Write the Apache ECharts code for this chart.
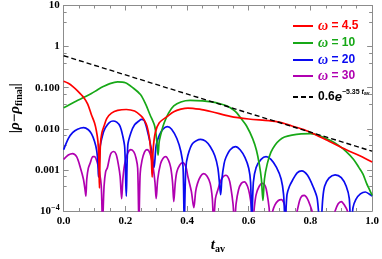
<!DOCTYPE html>
<html><head><meta charset="utf-8">
<script src="https://cdn.jsdelivr.net/npm/echarts@6/dist/echarts.min.js"></script>
<style>html,body{margin:0;padding:0;background:#fff}#c{width:382px;height:259px}</style>
</head><body><div id="c"></div>
<script>
// ---- data (t_av, |rho - rho_final|) ----
const xTickValues = [0, 0.2, 0.4, 0.6, 0.8, 1.0];
const yTickLabels = {"1": "10", "0": "1", "-1": "0.100", "-2": "0.010", "-3": "0.001", "-4": "{b|10}{s|−4}"};
const seriesNames = ["ω = 4.5", "ω = 10", "ω = 20", "ω = 30", "fit"];

const red = [[0,0.143],[0.015,0.128],[0.029,0.108],[0.045,0.084],[0.065,0.058],[0.078,0.04],[0.09,0.022],[0.1,0.014],[0.106,0.009],[0.111,0.005],[0.114,0.002],[0.116,0.00036],[0.119,0.004],[0.124,0.008],[0.131,0.0117],[0.14,0.018],[0.155,0.024],[0.175,0.028],[0.203,0.0295],[0.23,0.027],[0.25,0.021],[0.26,0.017],[0.27,0.0117],[0.278,0.006],[0.284,0.002],[0.287,0.00067],[0.29,0.003],[0.297,0.008],[0.31,0.014],[0.336,0.02],[0.357,0.026],[0.38,0.03],[0.403,0.032],[0.44,0.03],[0.48,0.026],[0.54,0.02],[0.6,0.0173],[0.665,0.0158],[0.7,0.0145],[0.74,0.0117],[0.78,0.0095],[0.81,0.0076],[0.86,0.005],[0.916,0.0031],[0.96,0.0022],[1.0,0.00155]];

const green = [[0,0.0325],[0.02,0.039],[0.04,0.047],[0.065,0.058],[0.09,0.072],[0.11,0.089],[0.13,0.108],[0.15,0.126],[0.175,0.138],[0.2,0.132],[0.224,0.1],[0.249,0.068],[0.265,0.041],[0.28,0.022],[0.295,0.0117],[0.302,0.005],[0.306,0.0023],[0.31,0.005],[0.318,0.009],[0.326,0.014],[0.34,0.024],[0.357,0.036],[0.38,0.045],[0.41,0.049],[0.45,0.048],[0.48,0.045],[0.51,0.04],[0.53,0.036],[0.55,0.029],[0.562,0.024],[0.577,0.017],[0.593,0.0117],[0.613,0.0057],[0.625,0.003],[0.634,0.0014],[0.641,0.0006],[0.646,0.00018],[0.651,0.0006],[0.66,0.0014],[0.672,0.0027],[0.685,0.004],[0.7,0.0053],[0.716,0.0063],[0.74,0.007],[0.77,0.0075],[0.8,0.0076],[0.83,0.0068],[0.865,0.0052],[0.89,0.004],[0.916,0.0028],[0.94,0.0018],[0.957,0.00115],[0.97,0.0008],[0.982,0.00047],[0.99,0.00035],[1.0,0.00024]];

const blue = [[0,0.0031],[0.015,0.0058],[0.029,0.0081],[0.045,0.0098],[0.065,0.0107],[0.08,0.0095],[0.09,0.0076],[0.1,0.005],[0.107,0.003],[0.111,0.0015],[0.113,0.00067],[0.118,0.0035],[0.126,0.0069],[0.135,0.0105],[0.148,0.0142],[0.16,0.0155],[0.172,0.0145],[0.183,0.0115],[0.192,0.0065],[0.198,0.0035],[0.203,0.00023],[0.208,0.004],[0.218,0.008],[0.23,0.0125],[0.244,0.0155],[0.252,0.017],[0.262,0.0155],[0.275,0.0069],[0.285,0.003],[0.293,0.00115],[0.3,0.004],[0.31,0.0069],[0.322,0.0098],[0.336,0.0113],[0.35,0.0098],[0.367,0.0058],[0.38,0.0028],[0.387,0.0012],[0.391,0.00005],[0.396,0.0011],[0.403,0.0023],[0.418,0.0044],[0.444,0.0055],[0.46,0.005],[0.475,0.0037],[0.49,0.0022],[0.5,0.0011],[0.506,0.0004],[0.509,0.00025],[0.513,0.0006],[0.52,0.0014],[0.526,0.002],[0.54,0.0031],[0.557,0.0037],[0.572,0.0031],[0.588,0.002],[0.6,0.0011],[0.606,0.0005],[0.61,0.00005],[0.615,0.0005],[0.624,0.00115],[0.64,0.0018],[0.656,0.0021],[0.672,0.0018],[0.69,0.00115],[0.705,0.0006],[0.713,0.00025],[0.718,0.00005],[0.724,0.00025],[0.732,0.0004],[0.742,0.00056],[0.757,0.00085],[0.772,0.00095],[0.79,0.00075],[0.808,0.0004],[0.822,0.0002],[0.832,0.00003],[0.84,0.0002],[0.846,0.0004],[0.86,0.00063],[0.88,0.00076],[0.9,0.00065],[0.916,0.0004],[0.926,0.0002],[0.931,0.00003],[0.938,0.00012],[0.947,0.00019],[0.962,0.00026],[0.978,0.00029],[0.99,0.00026],[1.0,0.00023]];

const purple = [[0,0.0018],[0.015,0.0023],[0.029,0.0025],[0.042,0.0021],[0.054,0.00115],[0.064,0.0006],[0.07,0.0003],[0.072,0.00023],[0.075,0.0006],[0.08,0.0011],[0.085,0.0014],[0.095,0.0021],[0.1,0.0021],[0.108,0.0016],[0.116,0.0009],[0.122,0.0004],[0.126,0.00005],[0.131,0.0004],[0.136,0.0009],[0.142,0.00115],[0.152,0.0024],[0.162,0.0028],[0.17,0.0024],[0.177,0.0014],[0.183,0.0007],[0.188,0.0002],[0.192,0.0006],[0.198,0.0014],[0.208,0.0026],[0.218,0.0031],[0.228,0.0027],[0.235,0.0019],[0.24,0.0011],[0.244,0.00005],[0.248,0.0008],[0.254,0.0017],[0.262,0.0027],[0.27,0.0031],[0.28,0.0025],[0.29,0.00115],[0.296,0.0005],[0.3,0.0002],[0.305,0.0006],[0.314,0.0014],[0.322,0.0019],[0.331,0.0021],[0.34,0.0017],[0.347,0.00115],[0.353,0.0005],[0.357,0.00017],[0.362,0.0005],[0.367,0.0009],[0.376,0.0013],[0.386,0.0015],[0.396,0.0012],[0.403,0.00067],[0.414,0.0003],[0.422,0.00012],[0.428,0.0003],[0.434,0.00047],[0.444,0.0007],[0.454,0.00081],[0.465,0.0007],[0.475,0.00047],[0.482,0.0002],[0.486,0.00005],[0.492,0.0002],[0.5,0.00033],[0.512,0.0006],[0.526,0.00074],[0.536,0.0006],[0.542,0.00037],[0.549,0.00015],[0.554,0.00005],[0.559,0.00015],[0.567,0.00033],[0.576,0.00047],[0.586,0.00051],[0.596,0.0004],[0.603,0.00025],[0.609,0.00012],[0.613,0.00005],[0.618,0.00012],[0.624,0.00025],[0.634,0.0004],[0.644,0.00047],[0.654,0.0004],[0.66,0.00025],[0.666,0.00012],[0.67,0.00005],[0.676,0.00009],[0.685,0.00014],[0.696,0.00018],[0.706,0.00019],[0.715,0.00015],[0.72,0.0001],[0.723,0.00005],[0.74,0.00003],[0.757,0.0001],[0.765,0.00018],[0.772,0.00023],[0.78,0.00024],[0.79,0.0002],[0.8,0.00013],[0.805,0.0001],[0.81,0.00005],[0.85,0.00002],[0.88,0.0001],[0.89,0.00015],[0.9,0.00017],[0.91,0.00014],[0.92,0.0001],[0.93,0.00004],[0.97,0.00002],[1.0,0.00003]];

const fit = [[0,0.6],[0.5,0.041],[1.0,0.00285]];

// ---- styling ----
const colors = ["#ff0000", "#17a817", "#0a0af0", "#b000b0", "#000000"];
const frame = "#8c8c8c";
const serif = "Liberation Serif";
const sans = "Liberation Sans";
const solidIcon = 'path://M0,0H20V2H0Z';
const dashIcon = 'path://M0,0H5V2H0Z M8,0H13V2H8Z M16,0H20V2H16Z';

const chart = echarts.init(document.getElementById('c'), null, {renderer: 'canvas'});

function xAx(pos, labels) {
  return {
    type: 'value', min: 0, max: 1, interval: 0.2, position: pos,
    axisLine: {onZero: false, lineStyle: {color: frame, width: 1}},
    axisTick: {inside: true, length: 5, lineStyle: {color: frame}},
    minorTick: {show: true, splitNumber: 4, length: 3, lineStyle: {color: frame}},
    splitLine: {show: false},
    axisLabel: labels ? {show: true, formatter: v => v.toFixed(1), fontFamily: serif, fontWeight: 'bold', fontSize: 11, color: '#000', margin: 5} : {show: false}
  };
}
function yAx(pos, labels) {
  return {
    type: 'log', logBase: 10, min: 1e-4, max: 10, position: pos,
    axisLine: {onZero: false, lineStyle: {color: frame, width: 1}},
    axisTick: {inside: true, length: 5, lineStyle: {color: frame}},
    minorTick: {show: true, splitNumber: 3, length: 3, lineStyle: {color: frame}},
    splitLine: {show: false},
    axisLabel: labels ? {
      show: true, margin: 4, color: '#000', fontFamily: serif, fontWeight: 'bold', fontSize: 11,
      formatter: v => yTickLabels[String(Math.round(Math.log10(v)))] || '',
      rich: {
        b: {fontFamily: serif, fontWeight: 'bold', fontSize: 11, color: '#000'},
        s: {fontFamily: serif, fontWeight: 'bold', fontSize: 8, color: '#000', padding: [0, 0, 7, 0]}
      }
    } : {show: false}
  };
}

const xBottom = xAx('bottom', true);
xBottom.name = '{t|t}{s|av}';
xBottom.nameLocation = 'middle';
xBottom.nameGap = 26;
xBottom.nameTextStyle = {rich: {
  t: {fontFamily: serif, fontStyle: 'italic', fontWeight: 'bold', fontSize: 15, color: '#000'},
  s: {fontFamily: serif, fontWeight: 'bold', fontSize: 10, color: '#000', padding: [7, 0, 0, 0]}
}};
const yLeft = yAx('left', true);
yLeft.name = '|{r|ρ}−{r|ρ}{s|final}|';
yLeft.nameLocation = 'middle';
yLeft.nameRotate = 90;
yLeft.nameGap = 36;
yLeft.nameTextStyle = {fontFamily: serif, fontWeight: 'bold', fontSize: 15, color: '#000', rich: {
  r: {fontFamily: serif, fontStyle: 'italic', fontWeight: 'bold', fontSize: 15, color: '#000'},
  s: {fontFamily: serif, fontWeight: 'bold', fontSize: 10, color: '#000', padding: [7, 0, 0, 0]}
}};

const allData = [red, green, blue, purple, fit];
const series = allData.map((d, i) => ({
  name: seriesNames[i], type: 'line', data: d, xAxisIndex: 0, yAxisIndex: 0,
  showSymbol: false, symbol: 'none', clip: true, z: i === 4 ? 10 : 5 - i,
  smooth: i === 4 ? false : 0.3,
  lineStyle: {color: colors[i], width: i === 4 ? 1.4 : 1.7, type: i === 4 ? [5, 3] : 'solid'},
  itemStyle: {color: colors[i]}
}));

const rowCenters = [26, 43, 60, 76, 96];
const legendFormat = {
  "ω = 4.5": '{w|ω} = 4.5', "ω = 10": '{w|ω} = 10', "ω = 20": '{w|ω} = 20', "ω = 30": '{w|ω} = 30',
  "fit": '0.6{e|e}{sup|−5.35 }{st|t}{ss|av}'
};
const legends = seriesNames.map((n, i) => ({
  data: [n], left: 293, top: rowCenters[i] - 7, itemWidth: 20, itemHeight: 2, padding: 0,
  icon: i === 4 ? dashIcon : solidIcon,
  itemStyle: {color: colors[i], borderWidth: 0},
  formatter: name => legendFormat[name],
  textStyle: {
    color: colors[i], fontFamily: sans, fontWeight: 'bold', fontSize: 12, lineHeight: 14,
    rich: {
      w: {fontFamily: serif, fontStyle: 'italic', fontWeight: 'bold', fontSize: 14, color: colors[i]},
      e: {fontFamily: sans, fontStyle: 'italic', fontWeight: 'bold', fontSize: 13, color: colors[i]},
      sup: {fontFamily: sans, fontWeight: 'bold', fontSize: 7, color: colors[i], padding: [0, 0, 9, 0]},
      st: {fontFamily: sans, fontStyle: 'italic', fontWeight: 'bold', fontSize: 7, color: colors[i], padding: [0, 0, 9, 0]},
      ss: {fontFamily: sans, fontWeight: 'bold', fontSize: 5, color: colors[i], padding: [0, 0, 6, 0]}
    }
  }
}));

chart.setOption({
  animation: false,
  backgroundColor: '#fff',
  grid: {left: 49, right: 8, top: 4, bottom: 40},
  xAxis: [xBottom, xAx('top', false)],
  yAxis: [yLeft, yAx('right', false)],
  legend: legends,
  series: series
});
</script></body></html>
